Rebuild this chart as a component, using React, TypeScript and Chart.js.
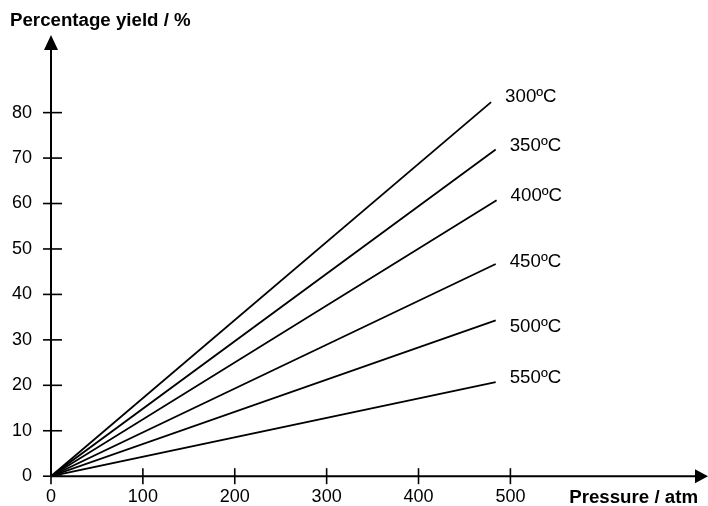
import { useEffect, useRef } from 'react';
import { Chart, registerables } from 'chart.js';

Chart.register(...registerables);

const SERIES_LABELS = ['300ºC', '350ºC', '400ºC', '450ºC', '500ºC', '550ºC'];
const START_PRESSURE = 0;
const START_YIELD = 0;
const END_PRESSURE = [479, 484, 485, 484, 484, 484];
const END_YIELD = [82.3, 71.9, 60.7, 46.7, 34.3, 20.7];
// yield value (data units) at which each label's text baseline sits
const LABEL_YIELD = [82.3, 71.6, 60.5, 46.1, 31.8, 20.4];
const X_TICKS = [0, 100, 200, 300, 400, 500];
const Y_TICKS = [0, 10, 20, 30, 40, 50, 60, 70, 80];
const X_MAX = 702;
const Y_MAX = 94;
const X_TITLE = 'Pressure / atm';
const Y_TITLE = 'Percentage yield / %';

const FONT = '"Liberation Sans", Arial, sans-serif';

export default function App() {
  const ref = useRef<HTMLCanvasElement | null>(null);

  useEffect(() => {
    document.body.style.margin = '0';
    const canvas = ref.current;
    if (!canvas) return;

    const overlay = {
      id: 'overlay',
      afterDraw(chart: any) {
        const ctx = chart.ctx as CanvasRenderingContext2D;
        const xs = chart.scales.x;
        const ys = chart.scales.y;
        const area = chart.chartArea;
        const x0 = xs.getPixelForValue(0);
        const y0 = ys.getPixelForValue(0);
        ctx.save();
        ctx.strokeStyle = '#000';
        ctx.fillStyle = '#000';
        ctx.lineWidth = 2;
        // y axis
        ctx.beginPath();
        ctx.moveTo(x0, y0);
        ctx.lineTo(x0, area.top);
        ctx.stroke();
        ctx.beginPath();
        ctx.moveTo(x0, area.top - 14);
        ctx.lineTo(x0 - 7, area.top + 1);
        ctx.lineTo(x0 + 7, area.top + 1);
        ctx.closePath();
        ctx.fill();
        // x axis
        ctx.beginPath();
        ctx.moveTo(x0, y0);
        ctx.lineTo(area.right, y0);
        ctx.stroke();
        ctx.beginPath();
        ctx.moveTo(area.right + 12, y0);
        ctx.lineTo(area.right - 1, y0 - 7);
        ctx.lineTo(area.right - 1, y0 + 7);
        ctx.closePath();
        ctx.fill();
        // tick marks crossing axes
        ctx.lineWidth = 1.6;
        for (const t of Y_TICKS) {
          const py = ys.getPixelForValue(t);
          ctx.beginPath();
          ctx.moveTo(x0 - 8, py);
          ctx.lineTo(x0 + 11, py);
          ctx.stroke();
        }
        for (const t of X_TICKS) {
          const px = xs.getPixelForValue(t);
          ctx.beginPath();
          ctx.moveTo(px, y0 - 8);
          ctx.lineTo(px, y0 + 8);
          ctx.stroke();
        }
        // series labels
        ctx.font = '18.7px ' + FONT;
        ctx.textAlign = 'left';
        ctx.textBaseline = 'alphabetic';
        SERIES_LABELS.forEach((lab, i) => {
          const px = xs.getPixelForValue(END_PRESSURE[i]);
          const py = ys.getPixelForValue(LABEL_YIELD[i]);
          ctx.fillText(lab, px + 14, py);
        });
        // titles
        ctx.font = 'bold 18.7px ' + FONT;
        ctx.textAlign = 'left';
        ctx.fillText(Y_TITLE, 10, 26);
        ctx.textAlign = 'right';
        ctx.fillText(X_TITLE, 698, 503);
        ctx.restore();
      },
    };

    const chart = new Chart(canvas, {
      type: 'line',
      data: {
        datasets: SERIES_LABELS.map((lab, i) => ({
          label: lab,
          data: [
            { x: START_PRESSURE, y: START_YIELD },
            { x: END_PRESSURE[i], y: END_YIELD[i] },
          ],
          borderColor: '#000',
          borderWidth: 1.8,
          pointRadius: 0,
          fill: false,
          tension: 0,
        })),
      },
      options: {
        responsive: false,
        animation: false,
        devicePixelRatio: 1,
        layout: { padding: { left: 0, top: 49, right: 12, bottom: 0 } },
        plugins: { legend: { display: false }, tooltip: { enabled: false } },
        scales: {
          x: {
            type: 'linear',
            min: 0,
            max: X_MAX,
            grid: { display: false, drawTicks: false },
            border: { display: false },
            afterBuildTicks: (s: any) => {
              s.ticks = X_TICKS.map((v) => ({ value: v }));
            },
            afterFit: (s: any) => {
              s.height = 29;
            },
            ticks: {
              padding: 10.5,
              color: '#000',
              font: { size: 18, family: FONT },
              maxRotation: 0,
              autoSkip: false,
            },
          },
          y: {
            type: 'linear',
            min: 0,
            max: Y_MAX,
            grid: { display: false, drawTicks: false },
            border: { display: false },
            afterBuildTicks: (s: any) => {
              s.ticks = Y_TICKS.map((v) => ({ value: v }));
            },
            afterFit: (s: any) => {
              s.width = 51;
            },
            ticks: {
              padding: 19,
              color: '#000',
              font: { size: 18, family: FONT },
              autoSkip: false,
            },
          },
        },
      },
      plugins: [overlay],
    });

    return () => chart.destroy();
  }, []);

  return (
    <div style={{ width: 708, height: 506, background: '#fff' }}>
      <canvas ref={ref} width={708} height={506} style={{ width: 708, height: 506, display: 'block' }} />
    </div>
  );
}
